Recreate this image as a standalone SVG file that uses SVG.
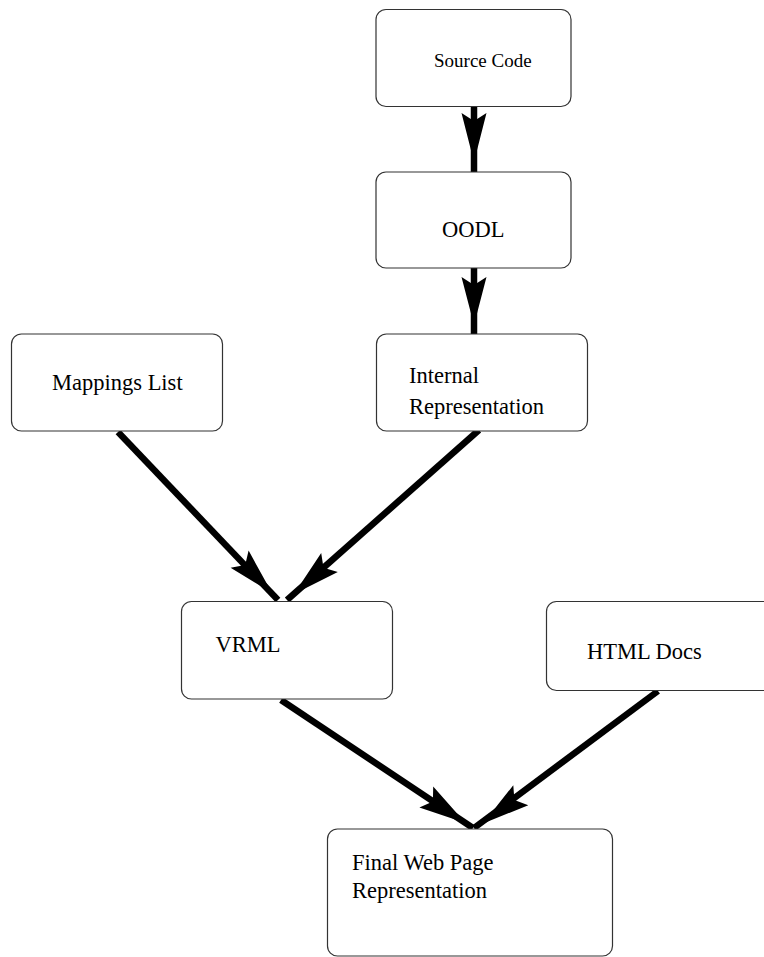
<svg xmlns="http://www.w3.org/2000/svg" width="764" height="957" viewBox="0 0 764 957">
<style>
.box{fill:#fff;stroke:#333;stroke-width:1.2}
.t{font-family:"Liberation Serif","Times New Roman",serif;font-size:22.5px;fill:#000}
.ts{font-family:"Liberation Serif","Times New Roman",serif;font-size:19px;fill:#000}
.ln{stroke:#000;stroke-width:6.5;fill:none;stroke-linecap:butt}
.ah{fill:#000;stroke:none}
</style>
<rect width="764" height="957" fill="#fff"/>
<g id="connectors">
<line class="ln" x1="474" y1="107" x2="474" y2="172"/>
<path class="ah" d="M474,162 L461.5,113 L474,121 L486.5,113 Z"/>
<line class="ln" x1="474" y1="268" x2="474" y2="334"/>
<path class="ah" d="M474,325 L461.5,277 L474,285 L486.5,277 Z"/>
<line class="ln" x1="118" y1="432" x2="278" y2="600"/>
<path class="ah" d="M272,593 L230.6,567.8 L245.2,565.0 L248.6,550.6 Z"/>
<line class="ln" x1="479" y1="430" x2="287" y2="600"/>
<path class="ah" d="M294,594 L337.8,571.9 L323.5,567.8 L321.2,553.1 Z"/>
<line class="ln" x1="281" y1="700" x2="473" y2="828"/>
<path class="ah" d="M465.5,823.1 L419.4,807.4 L432.9,801.4 L433.2,786.6 Z"/>
<line class="ln" x1="658" y1="691" x2="474" y2="828"/>
<path class="ah" d="M483,823.5 L528.3,805.2 L514.4,800.0 L513.3,785.2 Z"/>
</g>
<g id="source-code">
<rect class="box" x="376" y="9.5" width="195" height="97" rx="10"/>
<text class="ts" x="434" y="67">Source Code</text>
</g>
<g id="oodl">
<rect class="box" x="376" y="172" width="195" height="96" rx="10"/>
<text class="t" x="442" y="237">OODL</text>
</g>
<g id="internal-representation">
<rect class="box" x="376.5" y="334" width="211" height="97" rx="10"/>
<text class="t" x="409" y="383">Internal</text>
<text class="t" x="409" y="414">Representation</text>
</g>
<g id="mappings-list">
<rect class="box" x="11.5" y="334" width="211" height="97" rx="10"/>
<text class="t" x="52" y="390">Mappings List</text>
</g>
<g id="vrml">
<rect class="box" x="181.5" y="601.5" width="211" height="97.5" rx="10"/>
<text class="t" x="215.5" y="651.5">VRML</text>
</g>
<g id="html-docs">
<rect class="box" x="546.5" y="601.5" width="240" height="89" rx="10"/>
<text class="t" x="587" y="659">HTML Docs</text>
</g>
<g id="final-web-page">
<rect class="box" x="327.5" y="829" width="285" height="127" rx="10"/>
<text class="t" x="352" y="870">Final Web Page</text>
<text class="t" x="352" y="898">Representation</text>
</g>
</svg>
